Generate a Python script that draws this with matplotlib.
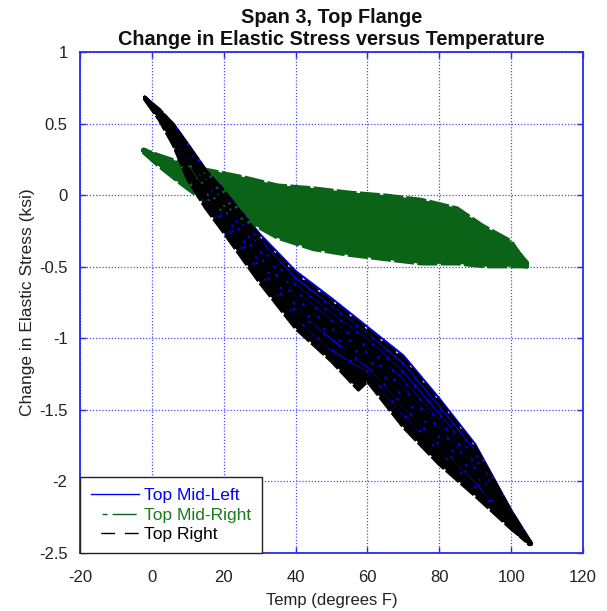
import matplotlib
matplotlib.use("Agg")
import matplotlib.pyplot as plt
from matplotlib.lines import Line2D

plt.rcParams["font.family"] = ["Liberation Sans", "DejaVu Sans"]

# Axis ticks and labels
temp_ticks = [-20, 0, 20, 40, 60, 80, 100, 120]
temp_tick_labels = ["-20", "0", "20", "40", "60", "80", "100", "120"]
stress_ticks = [-2.5, -2, -1.5, -1, -0.5, 0, 0.5, 1]
stress_tick_labels = ["-2.5", "-2", "-1.5", "-1", "-0.5", "0", "0.5", "1"]

series_names = ["Top Mid-Left", "Top Mid-Right", "Top Right"]

# Each inner list is one temperature sweep of the gauge record (deg F / ksi)
mid_left_temp = [
    [-2, 2, 6, 10, 15, 20, 30, 40, 50, 60, 70, 80, 90, 100, 105.5],
    [-1.5, 2.5, 6.5, 10, 15, 21, 31, 40, 49, 61, 70, 79, 90, 101, 105],
    [-2, 2, 6, 10, 15, 20, 30, 40, 50, 60, 70, 80, 90, 100, 105.5],
    [-2, 2, 6, 9.5, 15, 19, 30, 41, 50, 59, 70, 81, 90, 99, 105],
    [-1.5, 2, 6, 10, 15, 20, 29, 40, 51, 60, 69, 80, 91, 100, 105.5],
    [-2, 2, 6, 10, 15.5, 20, 30, 40, 50, 60, 70, 80, 90, 100, 105.5],
    [-2, 2, 6, 10, 15, 20, 30, 40, 50, 60, 70, 80, 90, 100, 105.5],
    [-2, 2, 6, 10, 15, 20, 30, 40, 50, 60, 70, 80, 90, 100, 105.5],
]
mid_left_stress = [
    [.68, .55, .38, .16, -.04, -.20, -.54, -.86, -1.08, -1.23, -1.53, -1.79, -2.04, -2.31, -2.43],
    [.68, .54, .38, .19, -.01, -.20, -.54, -.81, -.99, -1.22, -1.47, -1.72, -2.00, -2.32, -2.43],
    [.68, .56, .41, .21, .02, -.13, -.47, -.77, -.98, -1.14, -1.41, -1.69, -1.95, -2.28, -2.44],
    [.68, .57, .43, .23, .05, -.07, -.43, -.74, -.93, -1.08, -1.35, -1.66, -1.91, -2.23, -2.43],
    [.68, .58, .45, .27, .08, -.07, -.36, -.67, -.90, -1.06, -1.27, -1.58, -1.90, -2.25, -2.43],
    [.68, .58, .46, .30, .11, -.03, -.35, -.63, -.83, -1.01, -1.24, -1.53, -1.83, -2.23, -2.43],
    [.68, .59, .48, .33, .15, .00, -.31, -.58, -.78, -.97, -1.18, -1.48, -1.79, -2.22, -2.43],
    [.69, .60, .50, .36, .18, .04, -.27, -.53, -.72, -.92, -1.12, -1.42, -1.74, -2.20, -2.42],
]

mid_right_temp = [
    [-2.5, 2, 8, 15, 25, 35, 45, 55, 65, 75, 85, 93, 100, 104.5],
    [-2, 3, 9, 16, 24, 34, 46, 56, 64, 76, 86, 94, 101, 104],
    [-2.5, 2, 7, 15, 26, 36, 44, 54, 66, 74, 84, 92, 100, 104.5],
    [-1.5, 3, 8, 14, 25, 35, 45, 56, 65, 75, 86, 93, 99, 104],
    [-2.5, 2, 9, 16, 24, 34, 46, 55, 64, 76, 85, 94, 100, 104.5],
    [-2, 2, 8, 15, 25, 36, 45, 54, 65, 74, 84, 93, 101, 104],
    [-2.5, 3, 8, 15, 26, 35, 44, 55, 66, 75, 85, 92, 100, 104.5],
    [-2, 2, 7, 16, 25, 34, 45, 56, 65, 76, 86, 93, 99, 104],
    [-2.5, 2, 8, 15, 24, 35, 46, 55, 64, 75, 85, 93, 100, 104.5],
    [-2.5, 2, 8, 15, 25, 35, 45, 55, 65, 75, 85, 92, 100, 104],
]
mid_right_stress = [
    [.30, .20, .08, -.05, -.16, -.30, -.38, -.42, -.45, -.48, -.48, -.50, -.50, -.50],
    [.30, .21, .10, -.03, -.13, -.26, -.33, -.37, -.40, -.43, -.44, -.47, -.48, -.50],
    [.31, .22, .11, .00, -.11, -.23, -.28, -.31, -.36, -.37, -.39, -.43, -.46, -.49],
    [.31, .23, .13, .03, -.06, -.18, -.24, -.28, -.30, -.33, -.36, -.41, -.44, -.49],
    [.31, .24, .15, .06, -.02, -.13, -.19, -.22, -.24, -.28, -.31, -.38, -.42, -.49],
    [.31, .25, .16, .08, .00, -.10, -.14, -.17, -.20, -.22, -.26, -.35, -.40, -.48],
    [.31, .25, .18, .10, .04, -.05, -.08, -.13, -.16, -.17, -.22, -.31, -.38, -.48],
    [.32, .26, .19, .13, .07, .00, -.05, -.09, -.10, -.13, -.19, -.29, -.35, -.48],
    [.32, .27, .21, .15, .11, .03, .00, -.03, -.05, -.07, -.13, -.26, -.34, -.47],
    [.32, .28, .23, .18, .13, .07, .05, .02, .00, -.03, -.09, -.21, -.32, -.47],
]

right_temp = [
    [-2, 2, 6, 10, 15, 20, 30, 40, 50, 57.5, 60, 70, 80, 90, 100, 105.5],
    [-1.5, 2.5, 6, 10.5, 15, 21, 30, 41, 50, 61, 70, 81, 90, 100, 105],
    [-2, 2, 6.5, 10, 14.5, 20, 29, 40, 49, 60, 69, 80, 89, 100, 105.5],
    [-2, 2, 6, 10, 15, 20, 31, 40, 51, 60, 71, 80, 91, 100, 105],
    [-1.5, 2, 6, 9.5, 15, 19, 30, 39, 50, 59, 70, 79, 90, 99, 105.5],
    [-2, 2, 6, 10, 15.5, 20, 30, 40, 50, 60, 70, 80, 90, 100, 105],
    [-2, 2.5, 6, 10, 15, 21, 30, 41, 50, 61, 70, 81, 90, 100, 105.5],
    [-2, 2, 6, 10, 15, 20, 29, 40, 50, 60, 69, 80, 89, 100, 105.5],
    [-1.5, 2, 6, 10, 14.5, 20, 30, 40, 51, 60, 70, 80, 91, 100, 105],
    [-2, 2, 6, 10, 15, 20, 30, 40, 50, 60, 70, 80, 90, 100, 105.5],
]
right_stress = [
    [.67, .53, .35, .11, -.09, -.26, -.61, -.93, -1.16, -1.36, -1.30, -1.62, -1.88, -2.10, -2.33, -2.44],
    [.67, .54, .36, .13, -.06, -.27, -.57, -.91, -1.12, -1.29, -1.57, -1.84, -2.07, -2.32, -2.44],
    [.68, .55, .37, .16, -.02, -.20, -.50, -.85, -1.05, -1.22, -1.49, -1.79, -2.01, -2.31, -2.44],
    [.68, .55, .39, .19, -.01, -.17, -.53, -.81, -1.05, -1.18, -1.49, -1.74, -2.01, -2.29, -2.43],
    [.67, .56, .41, .20, .02, -.10, -.47, -.74, -.98, -1.12, -1.41, -1.66, -1.95, -2.25, -2.44],
    [.68, .57, .43, .24, .04, -.10, -.43, -.72, -.93, -1.10, -1.36, -1.64, -1.92, -2.26, -2.43],
    [.68, .56, .44, .27, .08, -.10, -.40, -.70, -.89, -1.08, -1.31, -1.62, -1.88, -2.25, -2.43],
    [.68, .58, .46, .29, .11, -.04, -.33, -.64, -.84, -1.02, -1.23, -1.55, -1.81, -2.24, -2.43],
    [.67, .59, .47, .32, .15, -.01, -.33, -.60, -.81, -.98, -1.20, -1.50, -1.84, -2.22, -2.43],
    [.68, .60, .49, .35, .17, .03, -.29, -.55, -.74, -.94, -1.14, -1.44, -1.76, -2.21, -2.43],
]

BLUE = "#0000ff"
GREEN = "#0b6318"
BLACK = "#000000"
FRAME = "#2a2af0"


def join_sweeps(temps, stresses):
    """Chain the sweeps into one continuous record, alternating heating/cooling."""
    xs, ys = [], []
    for i, (t, s) in enumerate(zip(temps, stresses)):
        if i % 2:
            t, s = t[::-1], s[::-1]
        xs += list(t)
        ys += list(s)
    return xs, ys


def envelope(temps, stresses):
    """Closed outline made of the lowest sweep and the highest sweep."""
    xs = list(temps[0]) + list(temps[-1])[::-1]
    ys = list(stresses[0]) + list(stresses[-1])[::-1]
    return xs, ys


fig = plt.figure(figsize=(6.07, 6.11), dpi=100)
ax = fig.add_axes([80 / 607, 1 - 553 / 611, 503 / 607, 501 / 611])

x1, y1 = join_sweeps(mid_left_temp, mid_left_stress)
x2, y2 = join_sweeps(mid_right_temp, mid_right_stress)
x3, y3 = join_sweeps(right_temp, right_stress)

# dense scatter of the record shown as a filled band under the traces
ex2, ey2 = envelope(mid_right_temp, mid_right_stress)
ex3, ey3 = envelope(right_temp, right_stress)
ax.fill(ex2, ey2, color=GREEN, lw=0, zorder=1.2)
ax.fill(ex3, ey3, color=BLACK, lw=0, zorder=1.5)

ax.plot(x1, y1, color=BLUE, lw=1.6, solid_joinstyle="round", zorder=2)
ax.plot(x2, y2, color=GREEN, lw=2.4, linestyle=(0, (6, 1)), zorder=3)
ax.plot(x3, y3, color=BLACK, lw=2.5, linestyle=(0, (5, 0.7)), zorder=4)

ax.set_xlim(-20, 120)
ax.set_ylim(-2.5, 1)
ax.set_xticks(temp_ticks)
ax.set_xticklabels(temp_tick_labels)
ax.set_yticks(stress_ticks)
ax.set_yticklabels(stress_tick_labels)

ax.set_axisbelow(True)
ax.grid(True, color="#4848ff", linestyle=(0, (1, 1.5)), lw=0.9)
for sp in ax.spines.values():
    sp.set_color(FRAME)
    sp.set_linewidth(1.3)
ax.tick_params(axis="both", direction="in", length=4, width=1, color=FRAME,
               top=True, right=True, labelsize=12, labelcolor="#222222")
ax.tick_params(axis="x", pad=12)
ax.tick_params(axis="y", pad=9)

ax.set_xlabel("Temp (degrees F)", fontsize=12, color="#222222", labelpad=6)
ax.set_ylabel("Change in Elastic Stress (ksi)", fontsize=12.5, color="#222222", labelpad=3)
ax.set_title("Span 3, Top Flange\nChange in Elastic Stress versus Temperature",
             fontsize=14.3, fontweight="bold", color="#111111", pad=5, linespacing=1.22)

handles = [
    Line2D([], [], color=BLUE, lw=1),
    Line2D([], [], color=GREEN, lw=1, linestyle=(24.5, (3.6, 3.6, 17.3, 8))),
    Line2D([], [], color=BLACK, lw=1, linestyle=(10, (10, 7))),
]
leg = ax.legend(handles, series_names, loc="lower left", bbox_to_anchor=(0, 0),
                borderaxespad=0, fancybox=False, framealpha=1, edgecolor="#222222",
                fontsize=12.5, handlelength=2.75, handletextpad=0.3,
                labelspacing=0.25, borderpad=0.62)
leg.get_frame().set_linewidth(1.0)
leg.set_zorder(10)
for txt, col in zip(leg.get_texts(), [BLUE, "#1a7a1a", BLACK]):
    txt.set_color(col)

fig.savefig("out.png", dpi=100)
